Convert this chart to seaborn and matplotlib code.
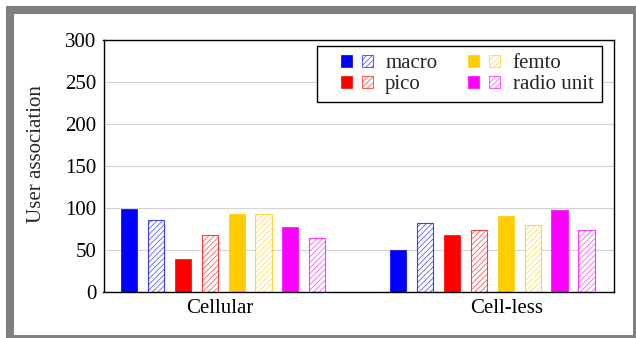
import matplotlib
matplotlib.use("Agg")
import matplotlib.pyplot as plt
import seaborn as sns
import pandas as pd
from matplotlib.colors import to_rgba
from matplotlib.patches import Patch, Rectangle
from matplotlib.legend_handler import HandlerTuple

# ---- data -------------------------------------------------------------
schemes = ["Cellular", "Cell-less"]
tiers = ["macro", "pico", "femto", "radio unit"]
tier_colors = ["#0000ff", "#ff0000", "#ffcc00", "#ff00ff"]

cellular_solid = [98, 39, 93, 77]
cellular_hatched = [86, 68, 93, 64]
cellless_solid = [50, 67, 90, 97]
cellless_hatched = [82, 73, 79, 73]

yticks = [0, 50, 100, 150, 200, 250, 300]

# ---- tidy table ------------------------------------------------------
rows = []
for scheme, solid, hatched in [("Cellular", cellular_solid, cellular_hatched),
                               ("Cell-less", cellless_solid, cellless_hatched)]:
    for tier, vs, vh in zip(tiers, solid, hatched):
        rows.append({"scheme": scheme, "bar": f"{tier} solid", "value": vs})
        rows.append({"scheme": scheme, "bar": f"{tier} hatched", "value": vh})
df = pd.DataFrame(rows)

hue_order = []
palette = {}
for tier, c in zip(tiers, tier_colors):
    for style in ("solid", "hatched"):
        hue_order.append(f"{tier} {style}")
        palette[f"{tier} {style}"] = c

# ---- style -----------------------------------------------------------
sns.set_style("white")
plt.rcParams["font.family"] = ["Liberation Serif", "DejaVu Serif"]
plt.rcParams["hatch.linewidth"] = 0.5

W, H = 636, 338
fig = plt.figure(figsize=(W / 100, H / 100), dpi=100)

# grey page frame
fig.patches.append(Rectangle((6 / W, 0), 1, (H - 6) / H, transform=fig.transFigure,
                             facecolor="#808080", edgecolor="none", zorder=-10))
fig.patches.append(Rectangle((14 / W, 3 / H), (633 - 14) / W, (335 - 14) / H,
                             transform=fig.transFigure, facecolor="white",
                             edgecolor="none", zorder=-9))

ax_l, ax_r, ax_t, ax_b = 103.5, 613.5, 40.0, 291.7
ax = fig.add_axes([ax_l / W, (H - ax_b) / H, (ax_r - ax_l) / W, (ax_b - ax_t) / H])

sns.barplot(data=df, x="scheme", y="value", hue="bar", order=schemes,
            hue_order=hue_order, palette=palette, width=0.8, gap=0.4,
            saturation=1, errorbar=None, legend=False, ax=ax)


def soft(c, a=0.75):
    return to_rgba(c, a)


for name, cont in zip(hue_order, ax.containers):
    c = palette[name]
    for bar in cont:
        if name.endswith("hatched"):
            bar.set_facecolor("white")
            bar.set_edgecolor(soft(c))
            bar.set_hatch("//////")
            bar.set_linewidth(0.8)
        else:
            bar.set_facecolor(c)
            bar.set_edgecolor(c)
            bar.set_linewidth(0.5)

ax.set_xlim(-0.4445, 1.4505)
ax.set_ylim(0, 300)
ax.set_yticks(yticks)
ax.set_xticks([-0.013, 1.055], schemes)
ax.set_xlabel("")
ax.set_ylabel("User association", fontsize=15, va="center")
ax.yaxis.set_label_coords(-0.131, 0.547)
ax.tick_params(axis="both", length=0, pad=5, labelsize=15, colors="black")
ax.grid(axis="y", color="#d3d3d3", linewidth=0.8)
ax.set_axisbelow(True)
for s in ax.spines.values():
    s.set_visible(True)
    s.set_color("black")
    s.set_linewidth(1.0)

# legend: filled + hatched swatch per tier
handles = []
for c in tier_colors:
    handles.append((Patch(facecolor=c, edgecolor=c, linewidth=0.5),
                    Patch(facecolor="white", edgecolor=soft(c), hatch="//////",
                          linewidth=0.6)))
leg = ax.legend(handles, tiers, ncol=2, loc="upper left",
                bbox_to_anchor=(0.4192, 0.9774), borderaxespad=0,
                handler_map={tuple: HandlerTuple(ndivide=None, pad=0.48, xpad=0.73)},
                handlelength=2.27, handleheight=0.53, handletextpad=0.59,
                columnspacing=0.76, borderpad=0.4, labelspacing=0.1,
                fontsize=15, frameon=True, fancybox=False, framealpha=1,
                edgecolor="black")
leg.get_frame().set_linewidth(1.0)

fig.savefig("out.png", dpi=100)
